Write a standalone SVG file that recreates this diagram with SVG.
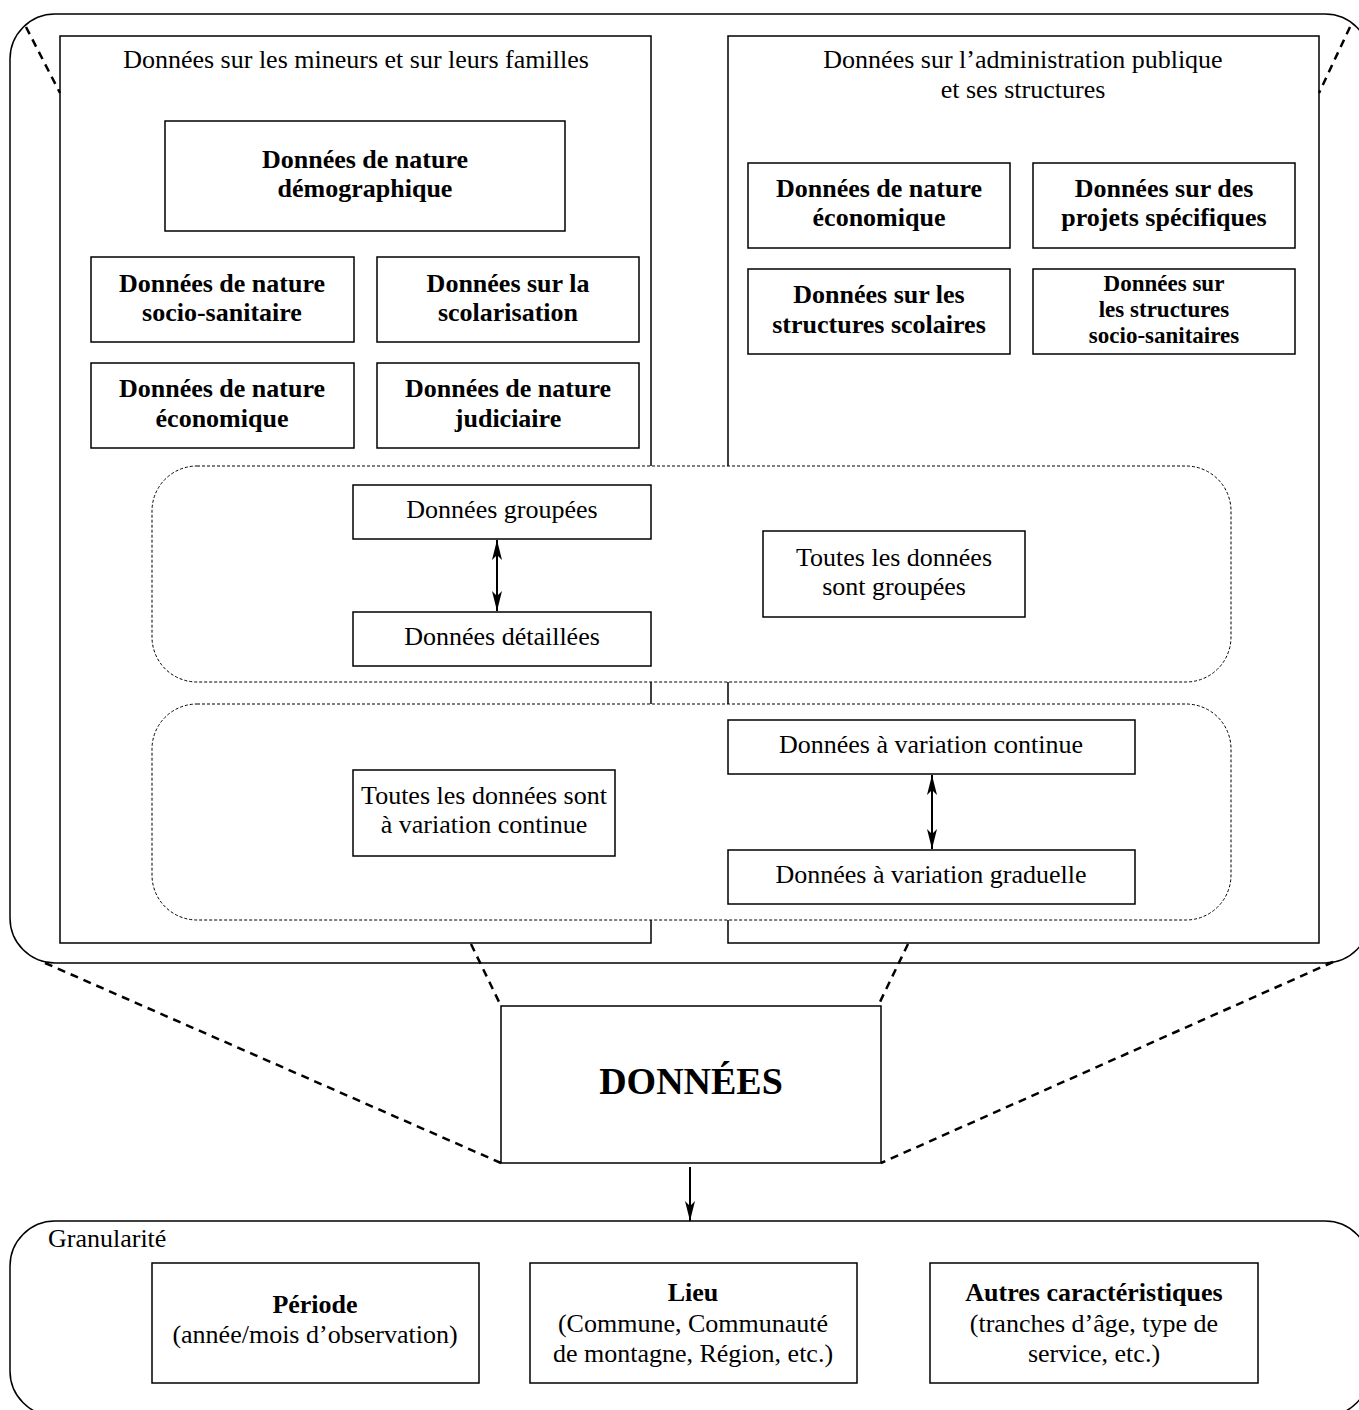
<svg xmlns="http://www.w3.org/2000/svg" width="1359" height="1410" viewBox="0 0 1359 1410">
<defs>
<style>
text{font-family:"Liberation Serif","Times New Roman",serif;font-size:26px;fill:#000;text-anchor:middle}
.b{font-weight:bold}
.sm{font-size:23px}
.big{font-weight:bold;font-size:38px}
.left{text-anchor:start}
.box{fill:#fff;stroke:#000;stroke-width:1.5}
.frame{fill:none;stroke:#000;stroke-width:1.5}
.dot{fill:#fff;stroke:#000;stroke-width:1;stroke-dasharray:3 2}
.dash{fill:none;stroke:#000;stroke-width:2.5;stroke-dasharray:8 6}
.arr{fill:none;stroke:#000;stroke-width:2}
</style>
<marker id="ah" viewBox="0 0 20 10" refX="20" refY="5" markerWidth="20" markerHeight="10" markerUnits="userSpaceOnUse" orient="auto-start-reverse">
<path d="M0,0 L20,5 L0,10 L5,5 Z" fill="#000"/>
</marker>
</defs>

<g id="outer">
<rect class="frame" x="10" y="14" width="1360" height="949" rx="45" ry="45"/>
</g>

<g id="col-mineurs">
<rect class="frame" x="60" y="36" width="591" height="907"/>
<text x="356" y="68">Données sur les mineurs et sur leurs familles</text>
</g>
<g id="col-admin">
<rect class="frame" x="728" y="36" width="591" height="907"/>
<text x="1023" y="68">Données sur l’administration publique</text>
<text x="1023" y="98">et ses structures</text>
</g>

<g id="n-demo"><rect class="box" x="165" y="121" width="400" height="110"/>
<text class="b" x="365" y="168">Données de nature</text><text class="b" x="365" y="197">démographique</text></g>
<g id="n-socio"><rect class="box" x="91" y="257" width="263" height="85"/>
<text class="b" x="222" y="292">Données de nature</text><text class="b" x="222" y="321">socio-sanitaire</text></g>
<g id="n-scol"><rect class="box" x="377" y="257" width="262" height="85"/>
<text class="b" x="508" y="292">Données sur la</text><text class="b" x="508" y="321">scolarisation</text></g>
<g id="n-eco1"><rect class="box" x="91" y="363" width="263" height="85"/>
<text class="b" x="222" y="397">Données de nature</text><text class="b" x="222" y="427">économique</text></g>
<g id="n-jud"><rect class="box" x="377" y="363" width="262" height="85"/>
<text class="b" x="508" y="397">Données de nature</text><text class="b" x="508" y="427">judiciaire</text></g>

<g id="n-eco2"><rect class="box" x="748" y="163" width="262" height="85"/>
<text class="b" x="879" y="197">Données de nature</text><text class="b" x="879" y="226">économique</text></g>
<g id="n-proj"><rect class="box" x="1033" y="163" width="262" height="85"/>
<text class="b" x="1164" y="197">Données sur des</text><text class="b" x="1164" y="226">projets spécifiques</text></g>
<g id="n-struct-scol"><rect class="box" x="748" y="269" width="262" height="85"/>
<text class="b" x="879" y="303">Données sur les</text><text class="b" x="879" y="333">structures scolaires</text></g>
<g id="n-struct-socio"><rect class="box" x="1033" y="269" width="262" height="85"/>
<text class="b sm" x="1164" y="291">Données sur</text><text class="b sm" x="1164" y="317">les structures</text><text class="b sm" x="1164" y="343">socio-sanitaires</text></g>

<g id="grp-groupement">
<rect class="dot" x="152" y="466" width="1079" height="216" rx="45" ry="45"/>
</g>
<g id="grp-variation">
<rect class="dot" x="152" y="704" width="1079" height="216" rx="45" ry="45"/>
</g>

<g id="n-groupees"><rect class="box" x="353" y="485" width="298" height="54"/>
<text x="502" y="518">Données groupées</text></g>
<g id="n-detaillees"><rect class="box" x="353" y="612" width="298" height="54"/>
<text x="502" y="645">Données détaillées</text></g>
<g id="n-toutes-groupees"><rect class="box" x="763" y="531" width="262" height="86"/>
<text x="894" y="566">Toutes les données</text><text x="894" y="595">sont groupées</text></g>

<g id="n-continue"><rect class="box" x="728" y="720" width="407" height="54"/>
<text x="931" y="753">Données à variation continue</text></g>
<g id="n-graduelle"><rect class="box" x="728" y="850" width="407" height="54"/>
<text x="931" y="883">Données à variation graduelle</text></g>
<g id="n-toutes-continue"><rect class="box" x="353" y="770" width="262" height="86"/>
<text x="484" y="804">Toutes les données sont</text><text x="484" y="833">à variation continue</text></g>

<g id="n-donnees"><rect class="box" x="501" y="1006" width="380" height="157"/>
<text class="big" x="691" y="1094">DONNÉES</text></g>

<g id="granularite">
<rect class="frame" x="10" y="1221" width="1360" height="195" rx="45" ry="45"/>
<text class="left" x="48" y="1247">Granularité</text>
</g>
<g id="n-periode"><rect class="box" x="152" y="1263" width="327" height="120"/>
<text class="b" x="315" y="1313">Période</text><text x="315" y="1343">(année/mois d’observation)</text></g>
<g id="n-lieu"><rect class="box" x="530" y="1263" width="327" height="120"/>
<text class="b" x="693" y="1301">Lieu</text><text x="693" y="1332">(Commune, Communauté</text><text x="693" y="1362">de montagne, Région, etc.)</text></g>
<g id="n-autres"><rect class="box" x="930" y="1263" width="328" height="120"/>
<text class="b" x="1094" y="1301">Autres caractéristiques</text><text x="1094" y="1332">(tranches d’âge, type de</text><text x="1094" y="1362">service, etc.)</text></g>

<g id="connectors">
<line class="dash" x1="26" y1="27" x2="60" y2="93"/>
<line class="dash" x1="1350" y1="27" x2="1319" y2="93"/>
<line class="dash" x1="45" y1="963" x2="501" y2="1163"/>
<line class="dash" x1="1333" y1="962" x2="881" y2="1163"/>
<line class="dash" x1="471" y1="944" x2="501" y2="1006"/>
<line class="dash" x1="908" y1="944" x2="878" y2="1006"/>
<line class="arr" x1="497" y1="540" x2="497" y2="611" marker-start="url(#ah)" marker-end="url(#ah)"/>
<line class="arr" x1="932" y1="775" x2="932" y2="849" marker-start="url(#ah)" marker-end="url(#ah)"/>
<line class="arr" x1="690" y1="1167" x2="690" y2="1221" marker-end="url(#ah)"/>
</g>
</svg>
